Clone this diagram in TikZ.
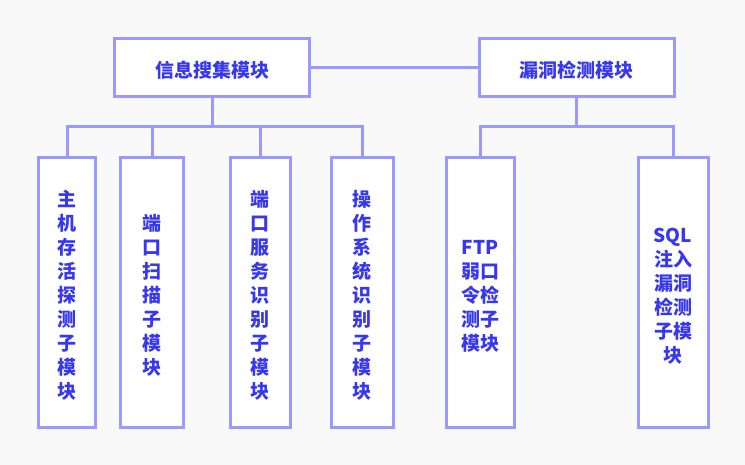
\documentclass[tikz,border=0pt]{standalone}
\usepackage{fontspec}
\setmainfont{Noto Sans CJK SC}
% label text, stacked line by line; extra room on top sets it a little low in its box
\newcommand\stacklabel[1]{\raisebox{0pt}[\dimexpr\height+11pt\relax]{\begin{tabular}{@{}c@{}}#1\end{tabular}}}
\begin{document}
\begin{tikzpicture}[x=1pt,y=-1pt,
  edgecol/.style={draw={rgb,255:red,153;green,153;blue,255}},
  modbox/.style={edgecol, fill=white, line width=3pt, inner sep=0pt,
    text={rgb,255:red,55;green,55;blue,240},
    font=\fontsize{19}{24}\selectfont\bfseries},
  topbox/.style={modbox, minimum width=195pt, minimum height=58pt},
  conn/.style={edgecol, line width=3pt}]
  % page background
  \fill[fill={rgb,255:red,249;green,249;blue,249}] (0,0) rectangle (745,465);
  \useasboundingbox (0,0) rectangle (745,465);

  % top level modules
  \node[topbox] (info) at (212,67.5) {\stacklabel{信息搜集模块}};
  \node[topbox] (vuln) at (576.5,67.5) {\stacklabel{漏洞检测模块}};

  % sub-modules
  \node[modbox, minimum width=57pt, minimum height=269pt] (c1) at (67,292.5)
    {\stacklabel{主\\机\\存\\活\\探\\测\\子\\模\\块}};
  \node[modbox, minimum width=63pt, minimum height=269pt] (c2) at (152,292.5)
    {\stacklabel{端\\口\\扫\\描\\子\\模\\块}};
  \node[modbox, minimum width=60pt, minimum height=269pt] (c3) at (260,292.5)
    {\stacklabel{端\\口\\服\\务\\识\\别\\子\\模\\块}};
  \node[modbox, minimum width=62pt, minimum height=269pt] (c4) at (362,292.5)
    {\stacklabel{操\\作\\系\\统\\识\\别\\子\\模\\块}};
  \node[modbox, minimum width=68pt, minimum height=269pt] (c5) at (480,292.5)
    {\stacklabel{FTP\\弱口\\令检\\测子\\模块}};
  \node[modbox, minimum width=70pt, minimum height=269pt] (c6) at (673,292.5)
    {\stacklabel{SQL\\注入\\漏洞\\检测\\子模\\块}};

  \coordinate (bus) at (0,127);

  % connectors
  \draw[conn] (info.east) -- (vuln.west);
  \foreach \c in {c1,c2,c3,c4}
    \draw[conn] (info.south) -- (info.south |- bus) -| (\c.north);
  \foreach \c in {c5,c6}
    \draw[conn] (vuln.south) -- (vuln.south |- bus) -| (\c.north);
\end{tikzpicture}
\end{document}
